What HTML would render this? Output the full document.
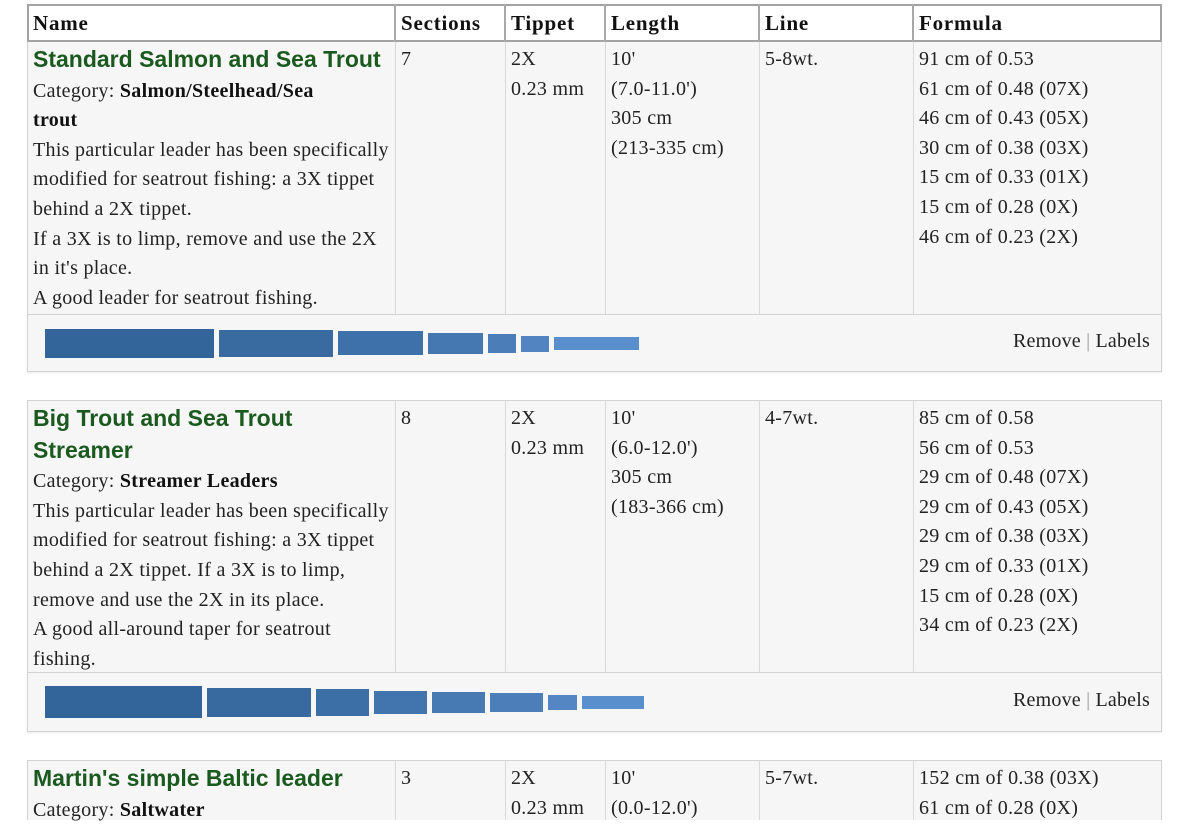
<!DOCTYPE html>
<html>
<head>
<meta charset="utf-8">
<style>
html,body{margin:0;padding:0;background:#fff;}
body{width:1200px;height:810px;position:relative;overflow:hidden;}
.hdr{position:absolute;left:27px;width:1135px;height:38px;top:4px;background:#fff;border:2px solid #a3a3a3;box-sizing:border-box;}
.hv{position:absolute;top:4px;height:38px;width:2px;background:#a8a8a8;}
.body{position:absolute;left:27px;width:1135px;background:#f6f6f6;border-left:1px solid #d2d2d2;border-right:1px solid #d2d2d2;box-sizing:border-box;}
.bar-row{position:absolute;left:27px;width:1135px;background:#f6f6f6;border:1px solid #d2d2d2;box-sizing:border-box;box-shadow:0 1px 2px rgba(0,0,0,0.08);}
.vl{position:absolute;width:1px;background:#d9d9d9;}
.t{position:absolute;font-family:"Liberation Serif",serif;font-size:20px;line-height:29.6px;color:#222;white-space:nowrap;letter-spacing:0.3px;}
.h{position:absolute;top:4px;height:38px;line-height:38px;font-family:"Liberation Serif",serif;font-weight:bold;font-size:21px;letter-spacing:0.8px;color:#111;white-space:nowrap;}
.title{font-family:"Liberation Sans",sans-serif;font-weight:bold;font-size:23px;color:#1b5a1f;letter-spacing:0;}
b{font-weight:bold;color:#111;}
.bar{position:absolute;}
.rl{position:absolute;right:50px;font-family:"Liberation Serif",serif;font-size:20px;color:#222;white-space:nowrap;letter-spacing:0.2px;}
.sep{color:#999;}
</style>
</head>
<body>

<!-- CARD 1 -->
<div class="hdr"></div>
<div class="hv" style="left:394px"></div>
<div class="hv" style="left:504px"></div>
<div class="hv" style="left:604px"></div>
<div class="hv" style="left:758px"></div>
<div class="hv" style="left:912px"></div>
<div class="h" style="left:33px">Name</div>
<div class="h" style="left:401px">Sections</div>
<div class="h" style="left:511px">Tippet</div>
<div class="h" style="left:611px">Length</div>
<div class="h" style="left:765px">Line</div>
<div class="h" style="left:919px">Formula</div>

<div class="body" style="top:42px;height:272px;"></div>
<div class="vl" style="left:395px;top:42px;height:272px"></div>
<div class="vl" style="left:505px;top:42px;height:272px"></div>
<div class="vl" style="left:605px;top:42px;height:272px"></div>
<div class="vl" style="left:759px;top:42px;height:272px"></div>
<div class="vl" style="left:913px;top:42px;height:272px"></div>

<div class="t" style="left:33px;top:45px;">
<span class="title">Standard Salmon and Sea Trout</span><br>
Category: <b>Salmon/Steelhead/Sea</b><br>
<b>trout</b><br>
This particular leader has been specifically<br>
modified for seatrout fishing: a 3X tippet<br>
behind a 2X tippet.<br>
If a 3X is to limp, remove and use the 2X<br>
in it's place.<br>
A good leader for seatrout fishing.
</div>
<div class="t" style="left:401px;top:45px;">7</div>
<div class="t" style="left:511px;top:45px;">2X<br>0.23 mm</div>
<div class="t" style="left:611px;top:45px;">10'<br>(7.0-11.0')<br>305 cm<br>(213-335 cm)</div>
<div class="t" style="left:765px;top:45px;">5-8wt.</div>
<div class="t" style="left:919px;top:45px;">91 cm of 0.53<br>61 cm of 0.48 (07X)<br>46 cm of 0.43 (05X)<br>30 cm of 0.38 (03X)<br>15 cm of 0.33 (01X)<br>15 cm of 0.28 (0X)<br>46 cm of 0.23 (2X)</div>

<div class="bar-row" style="top:314px;height:58px;"></div>
<div class="bar" style="left:45px;top:329px;width:169px;height:29px;background:#34659a"></div>
<div class="bar" style="left:219px;top:330px;width:114px;height:27px;background:#396ba1"></div>
<div class="bar" style="left:338px;top:331px;width:85px;height:24px;background:#3e71a9"></div>
<div class="bar" style="left:428px;top:333px;width:55px;height:21px;background:#4577b0"></div>
<div class="bar" style="left:488px;top:334px;width:28px;height:19px;background:#4b7eb8"></div>
<div class="bar" style="left:521px;top:336px;width:28px;height:16px;background:#5184c0"></div>
<div class="bar" style="left:554px;top:337px;width:85px;height:13px;background:#5a8fcd"></div>
<div class="rl" style="top:327px;line-height:29.6px;">Remove <span class="sep">|</span> Labels</div>

<!-- CARD 2 -->
<div class="body" style="top:400px;height:272px;border-top:1px solid #d2d2d2;"></div>
<div class="vl" style="left:395px;top:400px;height:272px"></div>
<div class="vl" style="left:505px;top:400px;height:272px"></div>
<div class="vl" style="left:605px;top:400px;height:272px"></div>
<div class="vl" style="left:759px;top:400px;height:272px"></div>
<div class="vl" style="left:913px;top:400px;height:272px"></div>

<div class="t" style="left:33px;top:404px;">
<span class="title">Big Trout and Sea Trout</span><br>
<span class="title">Streamer</span><br>
Category: <b>Streamer Leaders</b><br>
This particular leader has been specifically<br>
modified for seatrout fishing: a 3X tippet<br>
behind a 2X tippet. If a 3X is to limp,<br>
remove and use the 2X in its place.<br>
A good all-around taper for seatrout<br>
fishing.
</div>
<div class="t" style="left:401px;top:404px;">8</div>
<div class="t" style="left:511px;top:404px;">2X<br>0.23 mm</div>
<div class="t" style="left:611px;top:404px;">10'<br>(6.0-12.0')<br>305 cm<br>(183-366 cm)</div>
<div class="t" style="left:765px;top:404px;">4-7wt.</div>
<div class="t" style="left:919px;top:404px;">85 cm of 0.58<br>56 cm of 0.53<br>29 cm of 0.48 (07X)<br>29 cm of 0.43 (05X)<br>29 cm of 0.38 (03X)<br>29 cm of 0.33 (01X)<br>15 cm of 0.28 (0X)<br>34 cm of 0.23 (2X)</div>

<div class="bar-row" style="top:672px;height:60px;"></div>
<div class="bar" style="left:45px;top:686px;width:157px;height:32px;background:#34659a"></div>
<div class="bar" style="left:207px;top:688px;width:104px;height:29px;background:#386aa0"></div>
<div class="bar" style="left:316px;top:689px;width:53px;height:27px;background:#3d6fa7"></div>
<div class="bar" style="left:374px;top:691px;width:53px;height:23px;background:#4274ad"></div>
<div class="bar" style="left:432px;top:692px;width:53px;height:21px;background:#477ab3"></div>
<div class="bar" style="left:490px;top:693px;width:53px;height:19px;background:#4c7fba"></div>
<div class="bar" style="left:548px;top:695px;width:29px;height:15px;background:#5386c3"></div>
<div class="bar" style="left:582px;top:696px;width:62px;height:13px;background:#5a8fcd"></div>
<div class="rl" style="top:686px;line-height:29.6px;">Remove <span class="sep">|</span> Labels</div>

<!-- CARD 3 -->
<div class="body" style="top:760px;height:60px;border-top:1px solid #d2d2d2;"></div>
<div class="vl" style="left:395px;top:760px;height:60px"></div>
<div class="vl" style="left:505px;top:760px;height:60px"></div>
<div class="vl" style="left:605px;top:760px;height:60px"></div>
<div class="vl" style="left:759px;top:760px;height:60px"></div>
<div class="vl" style="left:913px;top:760px;height:60px"></div>

<div class="t" style="left:33px;top:764px;">
<span class="title">Martin's simple Baltic leader</span><br>
Category: <b>Saltwater</b>
</div>
<div class="t" style="left:401px;top:764px;">3</div>
<div class="t" style="left:511px;top:764px;">2X<br>0.23 mm</div>
<div class="t" style="left:611px;top:764px;">10'<br>(0.0-12.0')</div>
<div class="t" style="left:765px;top:764px;">5-7wt.</div>
<div class="t" style="left:919px;top:764px;">152 cm of 0.38 (03X)<br>61 cm of 0.28 (0X)</div>

</body>
</html>
